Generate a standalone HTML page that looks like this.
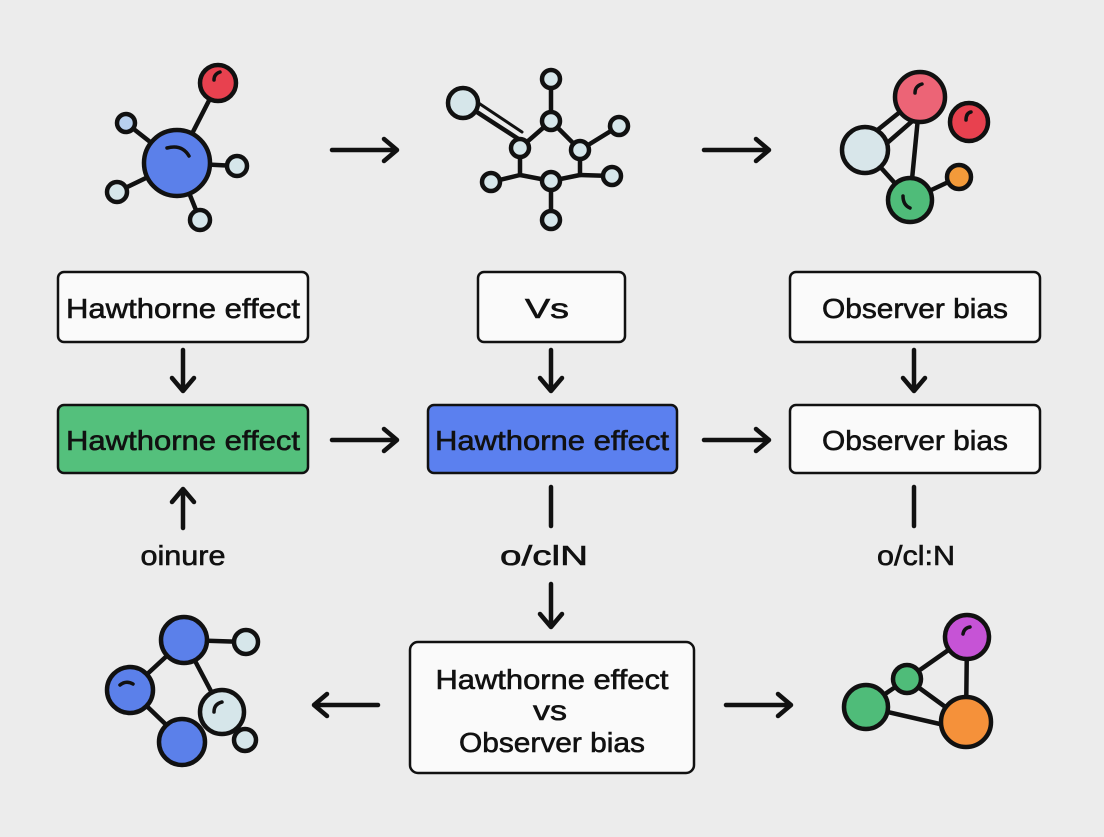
<!DOCTYPE html>
<html><head><style>html,body{margin:0;padding:0;background:#ececec}</style></head>
<body>
<svg width="1104" height="832" viewBox="0 0 1104 832" xmlns="http://www.w3.org/2000/svg" font-family="Liberation Sans, sans-serif">
<rect width="1104" height="832" fill="#ececec"/>
<g stroke="#111" stroke-width="4.5" stroke-linecap="round" stroke-linejoin="round" fill="none">
<path d="M332,150 H396 M384,139 L397,150 L384,161"/>
<path d="M704,150 H768 M756,139 L769,150 L756,161"/>
<path d="M332,440 H396 M384,429 L397,440 L384,451"/>
<path d="M704,440 H768 M756,429 L769,440 L756,451"/>
<path d="M183,350 V390 M172,378 L183,391 L194,378"/>
<path d="M551,350 V390 M540,378 L551,391 L562,378"/>
<path d="M914,350 V390 M903,378 L914,391 L925,378"/>
<path d="M183,528 V490 M172,502 L183,489 L194,502"/>
<path d="M551,487 V526"/>
<path d="M914,487 V526"/>
<path d="M551,584 V626 M540,614 L551,627 L562,614"/>
<path d="M378,705 H315 M327,694 L314,705 L327,716"/>
<path d="M726,705 H790 M778,694 L791,705 L778,716"/>
</g>
<g stroke="#111" stroke-width="2.5">
<rect x="58" y="272" width="250" height="70" rx="6" fill="#fafafa"/>
<rect x="478" y="272" width="147" height="70" rx="6" fill="#fafafa"/>
<rect x="790" y="272" width="250" height="70" rx="6" fill="#fafafa"/>
<rect x="58" y="405" width="250" height="68" rx="6" fill="#54c07c"/>
<rect x="428" y="405" width="249" height="68" rx="6" fill="#5b80ef"/>
<rect x="790" y="405" width="250" height="68" rx="6" fill="#fafafa"/>
<rect x="410" y="642" width="284" height="131" rx="8" fill="#fafafa"/>
</g>
<g font-size="28" fill="#111" stroke="#111" stroke-width="0.6" text-anchor="middle" lengthAdjust="spacingAndGlyphs">
<text x="183" y="318" textLength="234" lengthAdjust="spacingAndGlyphs">Hawthorne effect</text>
<text x="547" y="318" textLength="44" lengthAdjust="spacingAndGlyphs">Vs</text>
<text x="915" y="318" textLength="186" lengthAdjust="spacingAndGlyphs">Observer bias</text>
<text x="183" y="450" textLength="234" lengthAdjust="spacingAndGlyphs">Hawthorne effect</text>
<text x="552" y="450" textLength="234" lengthAdjust="spacingAndGlyphs">Hawthorne effect</text>
<text x="915" y="450" textLength="186" lengthAdjust="spacingAndGlyphs">Observer bias</text>
<text x="183" y="565" textLength="85" lengthAdjust="spacingAndGlyphs">oinure</text>
<text x="544" y="565" textLength="88" lengthAdjust="spacingAndGlyphs">o/clN</text>
<text x="916" y="565" textLength="78" lengthAdjust="spacingAndGlyphs">o/cl:N</text>
<text x="552" y="689" textLength="233" lengthAdjust="spacingAndGlyphs">Hawthorne effect</text>
<text x="550" y="720" textLength="34" lengthAdjust="spacingAndGlyphs">vs</text>
<text x="552" y="752" textLength="186" lengthAdjust="spacingAndGlyphs">Observer bias</text>
</g>
<g stroke="#111" stroke-width="4.5" stroke-linecap="round">
<line x1="177" y1="163" x2="218" y2="83"/><line x1="177" y1="163" x2="126" y2="123"/><line x1="177" y1="163" x2="117" y2="192"/><line x1="177" y1="163" x2="237" y2="166"/><line x1="177" y1="163" x2="200" y2="220"/>
<circle cx="218" cy="83" r="18" fill="#e8414f"/>
<circle cx="126" cy="123" r="9" fill="#b8d0ef"/>
<circle cx="117" cy="192" r="10" fill="#d6e6ea"/>
<circle cx="237" cy="166" r="10" fill="#d6e6ea"/>
<circle cx="200" cy="220" r="10" fill="#d6e6ea"/>
<circle cx="177" cy="163" r="33" fill="#5b80ea"/>
<path d="M551,121 L580,150 L580,175 L551,181 L520,175 L520,148 Z" fill="none"/>
<line x1="463" y1="103" x2="520" y2="140"/><line x1="468" y1="96" x2="522" y2="132" stroke-width="3"/>
<line x1="551" y1="121" x2="551" y2="79"/><line x1="580" y1="150" x2="619" y2="126"/><line x1="580" y1="175" x2="612" y2="176"/><line x1="520" y1="175" x2="491" y2="182"/><line x1="551" y1="181" x2="551" y2="220"/>
<g fill="#d6e6ea">
<circle cx="463" cy="103" r="15"/><circle cx="551" cy="79" r="9"/><circle cx="619" cy="126" r="9"/><circle cx="612" cy="176" r="9"/><circle cx="491" cy="182" r="9"/><circle cx="551" cy="220" r="9"/>
<circle cx="551" cy="121" r="9"/><circle cx="520" cy="148" r="9"/><circle cx="580" cy="150" r="9"/><circle cx="551" cy="181" r="9"/>
</g>
<line x1="865" y1="140" x2="915" y2="100"/><line x1="870" y1="158" x2="925" y2="110"/><line x1="920" y1="97" x2="910" y2="200"/><line x1="865" y1="150" x2="910" y2="200"/><line x1="910" y1="200" x2="959" y2="177"/>
<circle cx="920" cy="97" r="25" fill="#ec6476"/>
<circle cx="969" cy="122" r="19" fill="#e8414f"/>
<circle cx="865" cy="150" r="23" fill="#d8e6ea"/>
<circle cx="910" cy="200" r="22" fill="#4fbc79"/>
<circle cx="959" cy="177" r="12" fill="#f39a3a"/>
<line x1="184" y1="640" x2="246" y2="642"/><line x1="184" y1="640" x2="130" y2="690"/><line x1="184" y1="640" x2="222" y2="712"/><line x1="130" y1="690" x2="182" y2="740"/><line x1="222" y1="712" x2="245" y2="740"/>
<circle cx="184" cy="640" r="23" fill="#5b80ea"/>
<circle cx="246" cy="642" r="12" fill="#d6e6ea"/>
<circle cx="130" cy="690" r="23" fill="#5b80ea"/>
<circle cx="182" cy="742" r="23" fill="#5b80ea"/>
<circle cx="222" cy="712" r="22" fill="#d6e6ea"/>
<circle cx="245" cy="740" r="11" fill="#d6e6ea"/>
<line x1="967" y1="637" x2="907" y2="679"/><line x1="967" y1="637" x2="966" y2="722"/><line x1="907" y1="679" x2="866" y2="707"/><line x1="907" y1="679" x2="966" y2="722"/><line x1="866" y1="707" x2="966" y2="730"/>
<circle cx="967" cy="637" r="22" fill="#c653d6"/>
<circle cx="907" cy="679" r="14" fill="#4fbc79"/>
<circle cx="866" cy="707" r="22" fill="#4fbc79"/>
<circle cx="966" cy="722" r="25" fill="#f5913a"/>
</g>
<g stroke="#111" stroke-width="3.5" fill="none" stroke-linecap="round">
<path d="M167,148 Q182,144 189,156"/>
<path d="M214,80 Q214,74 220,72"/>
<path d="M915,93 Q915,86 922,84"/>
<path d="M966,120 Q966,113 971,112"/>
<path d="M903,196 Q903,205 910,208"/>
<path d="M120,685 Q126,680 133,684"/>
<path d="M214,712 Q214,704 222,702"/>
<path d="M963,634 Q964,628 970,627"/>
</g>
</svg>
</body></html>
